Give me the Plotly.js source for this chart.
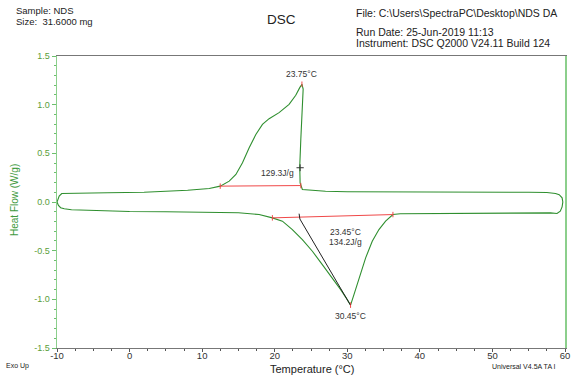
<!DOCTYPE html>
<html><head><meta charset="utf-8">
<script src="https://cdn.plot.ly/plotly-3.0.1.min.js"></script>
<style>html,body{margin:0;padding:0;background:#fff}#c{width:581px;height:376px}</style>
</head><body><div id="c"></div>
<script>
// Heating branch (endotherm down)
const heatT  = [-10, -9.8, -9.5, -9, -8, -6, -4, -2, 0, 5, 10, 15, 17.85, 19.68, 21.06, 22.43, 23.81, 25.19, 26.56, 27.94, 29.09, 30.0, 30.45, 30.92, 31.61, 32.53, 33.44, 34.36, 35.28, 36.29, 37.3, 40, 45, 50, 55, 58, 58.9, 59.35, 59.6, 59.7];
const heatHF = [0.0, -0.035, -0.058, -0.07, -0.08, -0.085, -0.09, -0.095, -0.098, -0.1, -0.105, -0.111, -0.129, -0.163, -0.197, -0.283, -0.386, -0.506, -0.643, -0.78, -0.9, -1.003, -1.06, -0.952, -0.78, -0.574, -0.403, -0.283, -0.197, -0.129, -0.12, -0.118, -0.116, -0.115, -0.113, -0.112, -0.118, -0.094, -0.05, 0.0];
// Cooling branch (exotherm up)
const coolT  = [59.7, 59.6, 59.2, 58.7, 57.5, 55, 50, 45, 40, 35, 30, 27, 25, 24.3, 23.81, 23.5, 23.45, 23.6, 23.73, 23.85, 23.92, 23.75, 23.45, 22.9, 21.98, 20.6, 19.23, 18.31, 17.4, 16.48, 15.56, 14.65, 13.73, 12.49, 10.98, 8, 5, 2, -3, -8, -9.35, -9.7, -10];
const coolHF = [0.0, 0.043, 0.075, 0.087, 0.097, 0.1, 0.1, 0.1, 0.1, 0.1, 0.105, 0.11, 0.118, 0.121, 0.129, 0.197, 0.368, 0.65, 0.849, 1.05, 1.16, 1.21, 1.175, 1.096, 1.003, 0.918, 0.856, 0.797, 0.694, 0.557, 0.403, 0.283, 0.214, 0.163, 0.139, 0.12, 0.11, 0.1, 0.095, 0.09, 0.087, 0.06, 0.0];
// Analysis marks
const exoBaseT = [12.49, 23.6], exoBaseHF = [0.163, 0.169];
const endoBaseT = [19.68, 36.29], endoBaseHF = [-0.163, -0.129];
const onsetT = [23.36, 23.47, 30.4], onsetHF = [-0.12, -0.175, -1.055];
const exoPeakT = 23.75, exoPeakHF = 1.21;
const endoPeakT = 30.45, endoPeakHF = -1.06;
const crossT = 23.5, crossHF = 0.352;
// Tick labels
const xTickVals = [-10, 0, 10, 20, 30, 40, 50, 60];
const xTickText = ['-10', '0', '10', '20', '30', '40', '50', '60'];
const yTickVals = [-1.5, -1.0, -0.5, 0.0, 0.5, 1.0, 1.5];
const yTickText = ['-1.5', '-1.0', '-0.5', '0.0', '0.5', '1.0', '1.5'];

const GREEN = '#2f8f2f', RED = '#f04848', BLACK = '#222';
const L = 57, R = 16, T = 56, B = 28, W = 581, H = 376;
const pw = W - L - R, ph = H - T - B;
const px = x => (x - L) / pw, py = y => (H - B - y) / ph;

const tk = 0.028, tkx = 0.5;
const traces = [
  {x: heatT.concat(coolT), y: heatHF.concat(coolHF), mode: 'lines', line: {color: GREEN, width: 1.1}},
  {x: exoBaseT, y: exoBaseHF, mode: 'lines', line: {color: RED, width: 1}},
  {x: endoBaseT, y: endoBaseHF, mode: 'lines', line: {color: RED, width: 1}},
  {x: [exoBaseT[0], exoBaseT[0], null, exoBaseT[1], exoBaseT[1], null, endoBaseT[0], endoBaseT[0], null, endoBaseT[1], endoBaseT[1], null, exoPeakT, exoPeakT, null, endoPeakT, endoPeakT],
   y: [exoBaseHF[0]-tk, exoBaseHF[0]+tk, null, exoBaseHF[1]-tk, exoBaseHF[1]+tk, null, endoBaseHF[0]-tk, endoBaseHF[0]+tk, null, endoBaseHF[1]-tk, endoBaseHF[1]+tk, null, exoPeakHF-tk, exoPeakHF+tk, null, endoPeakHF-tk, endoPeakHF+tk],
   mode: 'lines', line: {color: RED, width: 1}},
  {x: onsetT, y: onsetHF, mode: 'lines', line: {color: BLACK, width: 1}},
  {x: [crossT-tkx, crossT+tkx, null, crossT, crossT], y: [crossHF, crossHF, null, crossHF-0.035, crossHF+0.035], mode: 'lines', line: {color: '#333', width: 1}}
];

const FONT = 'Liberation Sans, Arial, sans-serif';
const txt = (x, y, s, size, color, xa, extra) => Object.assign({xref: 'paper', yref: 'paper', x: px(x), y: py(y), text: s, showarrow: false, xanchor: xa || 'left', yanchor: 'middle', font: {size: size, color: color || '#222', family: FONT}}, extra || {});
const lab = (x, y, s) => ({x: x, y: y, text: s, showarrow: false, font: {size: 8.5, color: '#333', family: FONT}});

const annotations = [
  txt(14, 11, 'Sample: NDS', 9.5),
  txt(14, 22, 'Size:  31.6000 mg', 9.5),
  txt(281, 19, 'DSC', 13.5, '#222', 'center'),
  txt(354, 13, 'File: C:\\Users\\SpectraPC\\Desktop\\NDS DA', 10.5),
  txt(354, 32, 'Run Date: 25-Jun-2019 11:13', 10.5),
  txt(354, 43, 'Instrument: DSC Q2000 V24.11 Build 124', 10.5),
  txt(4, 366, 'Exo Up', 7),
  txt(312, 369, 'Temperature (°C)', 11, '#222', 'center'),
  txt(490, 366, 'Universal V4.5A TA I', 7),
  txt(14, 200, 'Heat Flow (W/g)', 10, '#3e9a3e', 'center', {textangle: -90}),
  lab(exoPeakT, 1.31, '23.75°C'),
  lab(20.4, 0.3, '129.3J/g'),
  lab(29.8, -0.31, '23.45°C'),
  lab(29.8, -0.41, '134.2J/g'),
  lab(30.4, -1.17, '30.45°C')
];

const layout = {
  width: W, height: H, showlegend: false,
  margin: {l: L, r: R, t: T, b: B, pad: 0},
  paper_bgcolor: '#fff', plot_bgcolor: '#fff',
  font: {family: FONT},
  xaxis: {range: [-10, 60], tickmode: 'array', tickvals: xTickVals, ticktext: xTickText,
    ticks: 'outside', ticklen: 3, tickcolor: '#555', linecolor: '#777', linewidth: 1, mirror: true,
    showgrid: false, zeroline: false, tickfont: {size: 9.5, color: '#333'}, ticklabelstandoff: -4,
    minor: {dtick: 2.5, tick0: 0, ticks: 'outside', ticklen: 2, tickcolor: '#555', showgrid: false}},
  yaxis: {range: [-1.5, 1.5], tickmode: 'array', tickvals: yTickVals, ticktext: yTickText,
    ticks: 'outside', ticklen: 4, tickcolor: '#6cbf6c', linecolor: '#8ccf8c', linewidth: 1.5, mirror: true,
    showgrid: false, zeroline: false, tickfont: {size: 9, color: '#5a9e3a'},
    minor: {dtick: 0.1, tick0: 0, ticks: 'outside', ticklen: 2, tickcolor: '#6cbf6c', showgrid: false}},
  annotations: annotations
};
Plotly.newPlot('c', traces, layout, {staticPlot: true, displayModeBar: false});
</script></body></html>
